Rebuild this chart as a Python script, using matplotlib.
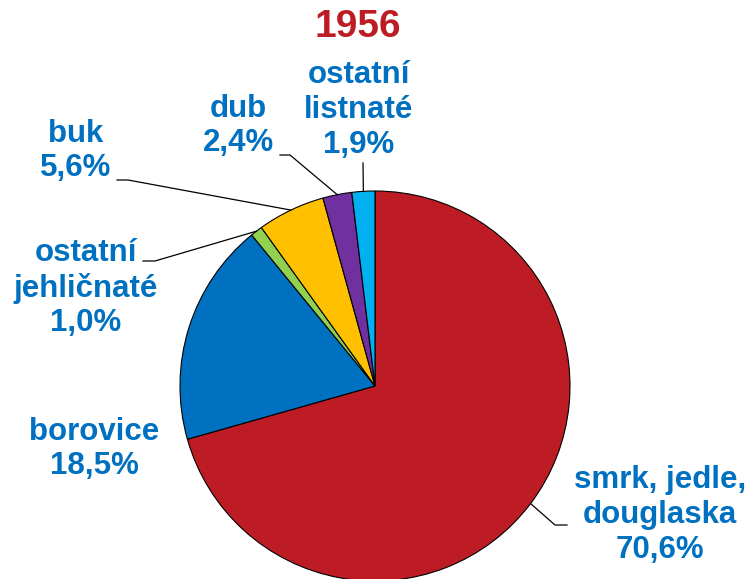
import matplotlib
matplotlib.use("Agg")
import matplotlib.pyplot as plt
import numpy as np

categories = ["smrk, jedle,\ndouglaska", "borovice", "ostatní\njehličnaté", "buk", "dub", "ostatní\nlistnaté"]
values = [70.6, 18.5, 1.0, 5.6, 2.4, 1.9]
value_labels = ["70,6%", "18,5%", "1,0%", "5,6%", "2,4%", "1,9%"]
colors = ["#BE1C24", "#0070C0", "#92D050", "#FFC000", "#7030A0", "#00B0F0"]
title = "1956"

W, H = 751, 579
fig = plt.figure(figsize=(W / 100, H / 100), dpi=100)
ax = fig.add_axes([0, 0, 1, 1])

cx, cy, r = 375, H - 386, 195
wedges, _ = ax.pie(values, colors=colors, startangle=90, counterclock=False,
                   center=(cx, cy), radius=r,
                   wedgeprops=dict(edgecolor="black", linewidth=0.8))
ax.set_xlim(0, W)
ax.set_ylim(0, H)
ax.set_aspect("equal")
ax.axis("off")

# label positions (pixel coords from top-left) and leader elbows
text_pos = [(660, 515), (94, 449), (86, 288), (76, 151), (238, 126), (359, 110)]
elbows = [[(555, 525), (567, 525)], None, [(155, 261), (143, 261)],
          [(128, 180), (117, 180)], [(290, 155), (280, 155)], [(363, 163)]]

font = dict(family=["Liberation Sans", "DejaVu Sans"], weight="bold")
lab_color = "#0070C0"
for w, cat, vl, tp, el in zip(wedges, categories, value_labels, text_pos, elbows):
    ax.text(tp[0], H - tp[1], cat + "\n" + vl, ha="center", va="center",
            fontsize=22.5, color=lab_color, linespacing=1.2, **font)
    if el is not None:
        ang = np.deg2rad((w.theta1 + w.theta2) / 2)
        px = cx + r * np.cos(ang)
        py = cy + r * np.sin(ang)
        xs = [px] + [e[0] for e in el]
        ys = [py] + [H - e[1] for e in el]
        ax.plot(xs, ys, color="black", lw=0.9)

ax.text(358, H - 27, title, ha="center", va="center", fontsize=28,
        color="#BE1C24", **font)

fig.savefig("out.png", dpi=100)
